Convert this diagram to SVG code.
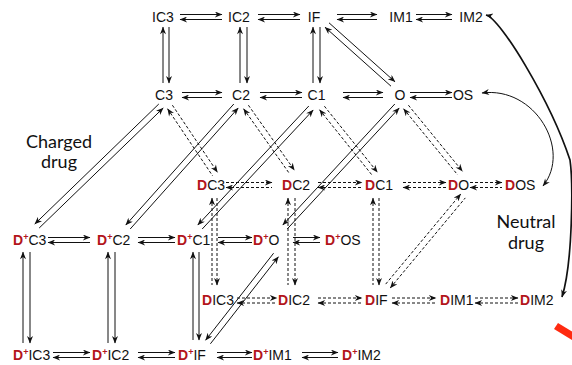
<svg xmlns="http://www.w3.org/2000/svg" width="572" height="365" viewBox="0 0 572 365">
<defs>
  <marker id="ah" viewBox="0 0 10 8" refX="9.5" refY="4" markerWidth="9" markerHeight="6" markerUnits="userSpaceOnUse" orient="auto-start-reverse">
    <path d="M0,0 L10,4 L0,8 L3,4z" fill="#111"/>
  </marker>
  <style>
    .lbl { font-family: "Liberation Sans", Arial, sans-serif; font-size: 14px; fill: #111; }
    .mid { text-anchor: middle; }
    .dr { fill: #b3151b; font-weight: bold; }
    .sup { fill: #b3151b; font-weight: bold; font-size: 9px; }
    .note { font-family: Lato, "Open Sans", sans-serif; font-size: 18px; fill: #111; text-anchor: middle; }
    line, path.c { stroke: #111; stroke-width: 1; fill: none; }
    .dash { stroke-dasharray: 3 2; }
    .f { marker-end: url(#ah); }
    .b { marker-start: url(#ah); }
  </style>
</defs>
<rect width="572" height="365" fill="#fff"/>

<g id="connectors">
  <!-- drug-free plane, inactivated row -->
  <line x1="180" y1="14.5" x2="222" y2="14.5" class="f"/><line x1="180" y1="19.5" x2="222" y2="19.5" class="b"/>
  <line x1="258" y1="14.5" x2="300" y2="14.5" class="f"/><line x1="258" y1="19.5" x2="300" y2="19.5" class="b"/>
  <line x1="337" y1="14.5" x2="377" y2="14.5" class="f"/><line x1="337" y1="19.5" x2="377" y2="19.5" class="b"/>
  <line x1="416" y1="14.5" x2="452" y2="14.5" class="f"/><line x1="416" y1="19.5" x2="452" y2="19.5" class="b"/>
  <!-- drug-free plane, closed/open row -->
  <line x1="182" y1="92.5" x2="222" y2="92.5" class="f"/><line x1="182" y1="97.5" x2="222" y2="97.5" class="b"/>
  <line x1="260" y1="92.5" x2="302" y2="92.5" class="f"/><line x1="260" y1="97.5" x2="302" y2="97.5" class="b"/>
  <line x1="343" y1="92.5" x2="383" y2="92.5" class="f"/><line x1="343" y1="97.5" x2="383" y2="97.5" class="b"/>
  <line x1="410" y1="92.5" x2="452" y2="92.5" class="f"/><line x1="410" y1="97.5" x2="452" y2="97.5" class="b"/>
  <!-- drug-free verticals -->
  <line x1="163" y1="27" x2="163" y2="83" class="b"/><line x1="169" y1="27" x2="169" y2="83" class="f"/>
  <line x1="240" y1="27" x2="240" y2="83" class="b"/><line x1="247" y1="27" x2="247" y2="83" class="f"/>
  <line x1="313" y1="27" x2="313" y2="83" class="b"/><line x1="320" y1="27" x2="320" y2="83" class="f"/>
  <!-- IF <-> O -->
  <line x1="329" y1="22.8" x2="395" y2="81.8" class="f"/><line x1="325" y1="27.2" x2="391" y2="86.2" class="b"/>

  <!-- charged drug binding -->
  <line x1="158.8" y1="104" x2="34.8" y2="224" class="f"/><line x1="163.2" y1="108" x2="39.2" y2="228" class="b"/>
  <line x1="233.8" y1="104" x2="125.8" y2="225" class="f"/><line x1="238.2" y1="108" x2="130.2" y2="229" class="b"/>
  <line x1="308.8" y1="106" x2="197.8" y2="225" class="f"/><line x1="313.2" y1="110" x2="202.2" y2="229" class="b"/>
  <line x1="394.8" y1="104" x2="282.8" y2="225" class="f"/><line x1="399.2" y1="108" x2="287.2" y2="229" class="b"/>

  <!-- neutral drug binding -->
  <line x1="172.4" y1="105.2" x2="217.4" y2="172.2" class="dash f"/><line x1="167.6" y1="108.8" x2="212.6" y2="175.8" class="dash b"/>
  <line x1="248.4" y1="105.2" x2="294.4" y2="170.2" class="dash f"/><line x1="243.6" y1="108.8" x2="289.6" y2="173.8" class="dash b"/>
  <line x1="324.4" y1="106.2" x2="377.4" y2="172.2" class="dash f"/><line x1="319.6" y1="109.8" x2="372.6" y2="175.8" class="dash b"/>
  <line x1="408.4" y1="105.2" x2="462.4" y2="171.2" class="dash f"/><line x1="403.6" y1="108.8" x2="457.6" y2="174.8" class="dash b"/>

  <!-- neutral-bound plane -->
  <line x1="226" y1="182.5" x2="272" y2="182.5" class="dash f"/><line x1="226" y1="187.5" x2="272" y2="187.5" class="dash b"/>
  <line x1="318" y1="182.5" x2="362" y2="182.5" class="dash f"/><line x1="318" y1="187.5" x2="362" y2="187.5" class="dash b"/>
  <line x1="403" y1="182.5" x2="446" y2="182.5" class="dash f"/><line x1="403" y1="187.5" x2="446" y2="187.5" class="dash b"/>
  <line x1="470" y1="182.5" x2="502" y2="182.5" class="dash f"/><line x1="470" y1="187.5" x2="502" y2="187.5" class="dash b"/>
  <line x1="237" y1="298" x2="277" y2="298" class="dash f"/><line x1="237" y1="303" x2="277" y2="303" class="dash b"/>
  <line x1="318" y1="298" x2="362" y2="298" class="dash f"/><line x1="318" y1="303" x2="362" y2="303" class="dash b"/>
  <line x1="392" y1="298" x2="436" y2="298" class="dash f"/><line x1="392" y1="303" x2="436" y2="303" class="dash b"/>
  <line x1="475" y1="298" x2="518" y2="298" class="dash f"/><line x1="475" y1="303" x2="518" y2="303" class="dash b"/>
  <line x1="212" y1="198" x2="212" y2="285" class="dash b"/><line x1="217" y1="198" x2="217" y2="285" class="dash f"/>
  <line x1="288" y1="198" x2="288" y2="285" class="dash b"/><line x1="295" y1="198" x2="295" y2="285" class="dash f"/>
  <line x1="373" y1="198" x2="373" y2="285" class="dash b"/><line x1="379" y1="198" x2="379" y2="285" class="dash f"/>
  <line x1="385.7" y1="284.1" x2="460.7" y2="194.1" class="dash f"/><line x1="390.3" y1="287.9" x2="465.3" y2="197.9" class="dash b"/>

  <!-- charged-bound plane -->
  <line x1="48" y1="237.5" x2="90" y2="237.5" class="f"/><line x1="48" y1="242.5" x2="90" y2="242.5" class="b"/>
  <line x1="138" y1="237.5" x2="175" y2="237.5" class="f"/><line x1="138" y1="242.5" x2="175" y2="242.5" class="b"/>
  <line x1="218" y1="237.5" x2="252" y2="237.5" class="f"/><line x1="218" y1="242.5" x2="252" y2="242.5" class="b"/>
  <line x1="293" y1="237.5" x2="320" y2="237.5" class="f"/><line x1="293" y1="242.5" x2="320" y2="242.5" class="b"/>
  <line x1="53" y1="352.5" x2="90" y2="352.5" class="f"/><line x1="53" y1="357.5" x2="90" y2="357.5" class="b"/>
  <line x1="138" y1="352.5" x2="175" y2="352.5" class="f"/><line x1="138" y1="357.5" x2="175" y2="357.5" class="b"/>
  <line x1="217" y1="352.5" x2="252" y2="352.5" class="f"/><line x1="217" y1="357.5" x2="252" y2="357.5" class="b"/>
  <line x1="302" y1="352.5" x2="338" y2="352.5" class="f"/><line x1="302" y1="357.5" x2="338" y2="357.5" class="b"/>
  <line x1="23" y1="252" x2="23" y2="343" class="b"/><line x1="30" y1="252" x2="30" y2="343" class="f"/>
  <line x1="108" y1="252" x2="108" y2="343" class="b"/><line x1="115" y1="252" x2="115" y2="343" class="f"/>
  <line x1="193" y1="252" x2="193" y2="340" class="b"/><line x1="199" y1="252" x2="199" y2="340" class="f"/>
  <line x1="205.6" y1="340.2" x2="273.6" y2="253.2" class="b"/><line x1="210.4" y1="343.8" x2="278.4" y2="256.8" class="f"/>

  <!-- long-range links -->
  <path class="c b f" d="M482,93 C535,86 572,150 543,186"/>
  <path class="c b f" style="stroke-width:1.7" d="M486,15 C500,18 550,100 570,160 C573,181 573,262 562,297"/>
</g>

<!-- drug-free states -->
<g id="n-IC3"><text class="lbl mid" x="163" y="22">IC3</text></g>
<g id="n-IC2"><text class="lbl mid" x="239" y="22">IC2</text></g>
<g id="n-IF"><text class="lbl mid" x="314" y="22">IF</text></g>
<g id="n-IM1"><text class="lbl mid" x="401" y="22">IM1</text></g>
<g id="n-IM2"><text class="lbl mid" x="471" y="22">IM2</text></g>
<g id="n-C3"><text class="lbl mid" x="164" y="100">C3</text></g>
<g id="n-C2"><text class="lbl mid" x="241" y="100">C2</text></g>
<g id="n-C1"><text class="lbl mid" x="316.5" y="100">C1</text></g>
<g id="n-O"><text class="lbl mid" x="400" y="100">O</text></g>
<g id="n-OS"><text class="lbl mid" x="463" y="100">OS</text></g>

<!-- neutral drug bound -->
<g id="n-DC3"><text class="lbl" x="197" y="190"><tspan class="dr">D</tspan>C3</text></g>
<g id="n-DC2"><text class="lbl" x="282" y="190"><tspan class="dr">D</tspan>C2</text></g>
<g id="n-DC1"><text class="lbl" x="365" y="190"><tspan class="dr">D</tspan>C1</text></g>
<g id="n-DO"><text class="lbl" x="448" y="190"><tspan class="dr">D</tspan>O</text></g>
<g id="n-DOS"><text class="lbl" x="505" y="190"><tspan class="dr">D</tspan>OS</text></g>
<g id="n-DIC3"><text class="lbl" x="202" y="305"><tspan class="dr">D</tspan>IC3</text></g>
<g id="n-DIC2"><text class="lbl" x="278" y="305"><tspan class="dr">D</tspan>IC2</text></g>
<g id="n-DIF"><text class="lbl" x="365" y="305"><tspan class="dr">D</tspan>IF</text></g>
<g id="n-DIM1"><text class="lbl" x="440" y="305"><tspan class="dr">D</tspan>IM1</text></g>
<g id="n-DIM2"><text class="lbl" x="520" y="305"><tspan class="dr">D</tspan>IM2</text></g>

<!-- charged drug bound -->
<g id="n-DpC3"><text class="lbl" x="13" y="245"><tspan class="dr">D</tspan><tspan class="sup" dy="-5">+</tspan><tspan dy="5">C3</tspan></text></g>
<g id="n-DpC2"><text class="lbl" x="97" y="245"><tspan class="dr">D</tspan><tspan class="sup" dy="-5">+</tspan><tspan dy="5">C2</tspan></text></g>
<g id="n-DpC1"><text class="lbl" x="177" y="245"><tspan class="dr">D</tspan><tspan class="sup" dy="-5">+</tspan><tspan dy="5">C1</tspan></text></g>
<g id="n-DpO"><text class="lbl" x="253" y="245"><tspan class="dr">D</tspan><tspan class="sup" dy="-5">+</tspan><tspan dy="5">O</tspan></text></g>
<g id="n-DpOS"><text class="lbl" x="325" y="245"><tspan class="dr">D</tspan><tspan class="sup" dy="-5">+</tspan><tspan dy="5">OS</tspan></text></g>
<g id="n-DpIC3"><text class="lbl" x="13" y="360"><tspan class="dr">D</tspan><tspan class="sup" dy="-5">+</tspan><tspan dy="5">IC3</tspan></text></g>
<g id="n-DpIC2"><text class="lbl" x="92" y="360"><tspan class="dr">D</tspan><tspan class="sup" dy="-5">+</tspan><tspan dy="5">IC2</tspan></text></g>
<g id="n-DpIF"><text class="lbl" x="178" y="360"><tspan class="dr">D</tspan><tspan class="sup" dy="-5">+</tspan><tspan dy="5">IF</tspan></text></g>
<g id="n-DpIM1"><text class="lbl" x="253" y="360"><tspan class="dr">D</tspan><tspan class="sup" dy="-5">+</tspan><tspan dy="5">IM1</tspan></text></g>
<g id="n-DpIM2"><text class="lbl" x="342" y="360"><tspan class="dr">D</tspan><tspan class="sup" dy="-5">+</tspan><tspan dy="5">IM2</tspan></text></g>

<!-- plane captions -->
<g id="cap-charged"><text class="note" x="59" y="148">Charged</text><text class="note" x="59" y="168">drug</text></g>
<g id="cap-neutral"><text class="note" x="526" y="228">Neutral</text><text class="note" x="526" y="249">drug</text></g>

<!-- red slash at lower right -->
<polygon points="554,329 558,323 576,334 572,340" fill="#ff2a10"/>
</svg>
